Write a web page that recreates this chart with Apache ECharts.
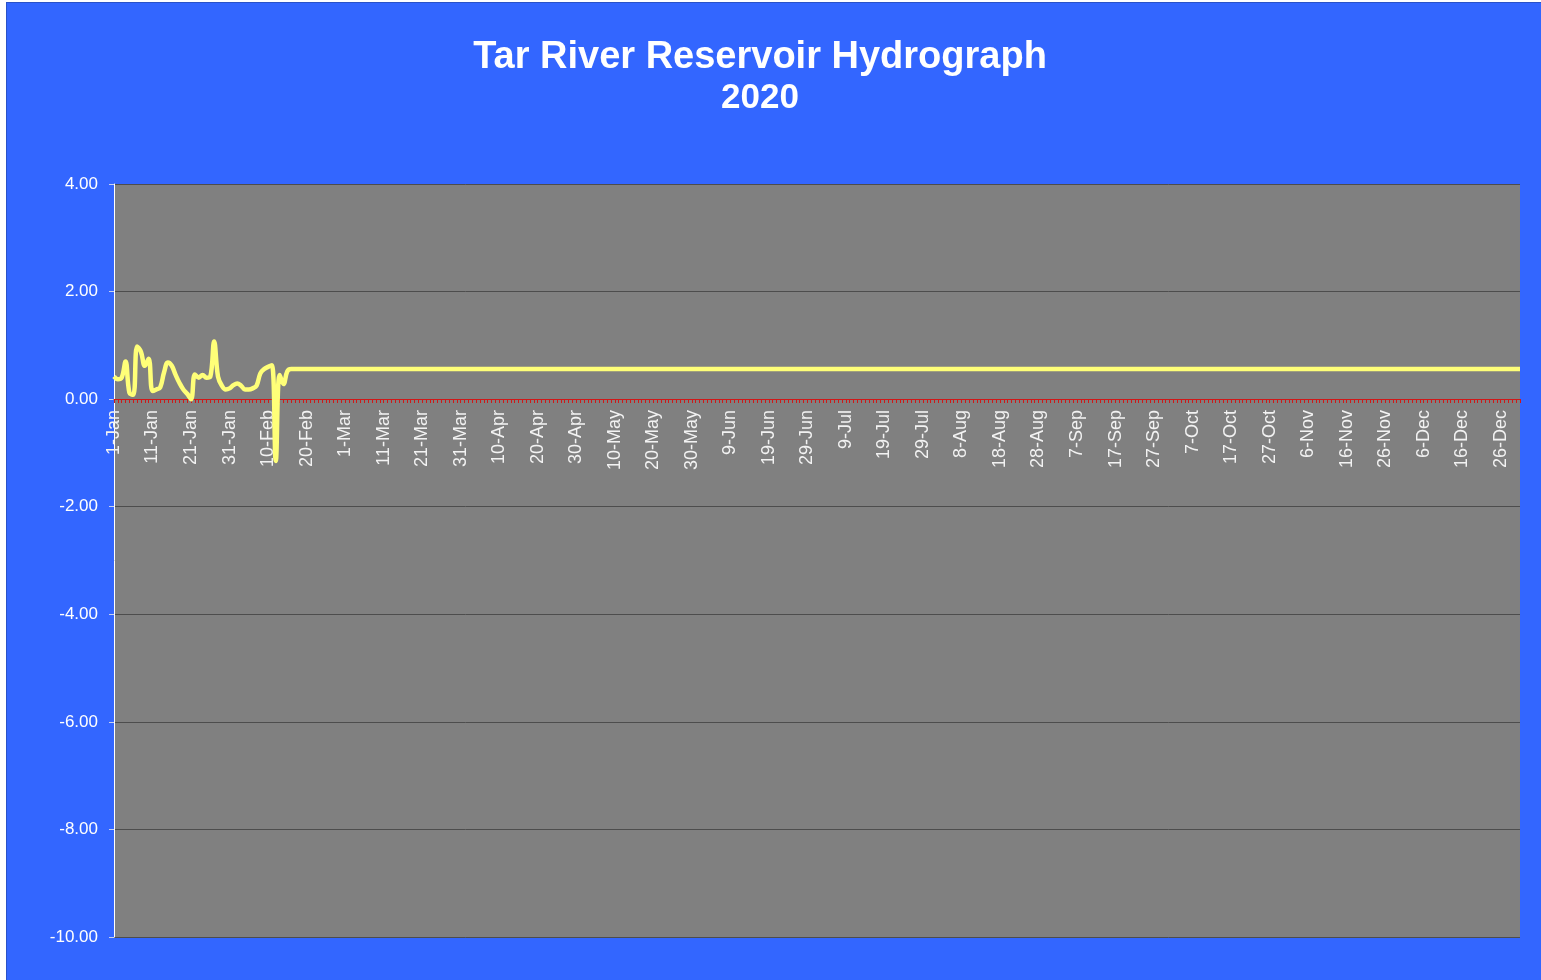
<!DOCTYPE html>
<html>
<head>
<meta charset="utf-8">
<title>Tar River Reservoir Hydrograph 2020</title>
<script src="https://cdn.jsdelivr.net/npm/echarts@6/dist/echarts.min.js"></script>
<style>
  html, body { margin: 0; padding: 0; background: #ffffff; }
  .frame { position: absolute; left: 6px; top: 2px; width: 1535px; height: 978px; background: #2a52c8; }
  #hydroChart { position: absolute; left: 7px; top: 3px; width: 1534px; height: 977px; }
</style>
</head>
<body>
<div class="frame"></div>
<div id="hydroChart"></div>
<script>
// 2020 is a leap year
const monthNames = ['Jan', 'Feb', 'Mar', 'Apr', 'May', 'Jun', 'Jul', 'Aug', 'Sep', 'Oct', 'Nov', 'Dec']
const monthDays = [31, 29, 31, 30, 31, 30, 31, 31, 30, 31, 30, 31]

// daily level, 1-Jan .. 15-Feb
const earlyLevels = [
  0.42, 0.37, 0.40, 0.70, 0.12, 0.08, 0.98, 0.88, 0.62, 0.75,
  0.15, 0.18, 0.22, 0.50, 0.68, 0.62, 0.45, 0.30, 0.18, 0.10,
  0.00, 0.46, 0.40, 0.45, 0.40, 0.42, 1.07, 0.42, 0.25, 0.18,
  0.20, 0.26, 0.29, 0.25, 0.18, 0.18, 0.20, 0.25, 0.48, 0.56,
  0.60, 0.63, -1.15, 0.45, 0.28, 0.52,
]

// 16-Feb .. 31-Dec, the line stays flat
const laterLevels = [
  0.56, 0.56, 0.56, 0.56, 0.56, 0.56, 0.56, 0.56, 0.56, 0.56, 0.56, 0.56, 0.56, 0.56, 0.56, 0.56, 0.56, 0.56, 0.56, 0.56,
  0.56, 0.56, 0.56, 0.56, 0.56, 0.56, 0.56, 0.56, 0.56, 0.56, 0.56, 0.56, 0.56, 0.56, 0.56, 0.56, 0.56, 0.56, 0.56, 0.56,
  0.56, 0.56, 0.56, 0.56, 0.56, 0.56, 0.56, 0.56, 0.56, 0.56, 0.56, 0.56, 0.56, 0.56, 0.56, 0.56, 0.56, 0.56, 0.56, 0.56,
  0.56, 0.56, 0.56, 0.56, 0.56, 0.56, 0.56, 0.56, 0.56, 0.56, 0.56, 0.56, 0.56, 0.56, 0.56, 0.56, 0.56, 0.56, 0.56, 0.56,
  0.56, 0.56, 0.56, 0.56, 0.56, 0.56, 0.56, 0.56, 0.56, 0.56, 0.56, 0.56, 0.56, 0.56, 0.56, 0.56, 0.56, 0.56, 0.56, 0.56,
  0.56, 0.56, 0.56, 0.56, 0.56, 0.56, 0.56, 0.56, 0.56, 0.56, 0.56, 0.56, 0.56, 0.56, 0.56, 0.56, 0.56, 0.56, 0.56, 0.56,
  0.56, 0.56, 0.56, 0.56, 0.56, 0.56, 0.56, 0.56, 0.56, 0.56, 0.56, 0.56, 0.56, 0.56, 0.56, 0.56, 0.56, 0.56, 0.56, 0.56,
  0.56, 0.56, 0.56, 0.56, 0.56, 0.56, 0.56, 0.56, 0.56, 0.56, 0.56, 0.56, 0.56, 0.56, 0.56, 0.56, 0.56, 0.56, 0.56, 0.56,
  0.56, 0.56, 0.56, 0.56, 0.56, 0.56, 0.56, 0.56, 0.56, 0.56, 0.56, 0.56, 0.56, 0.56, 0.56, 0.56, 0.56, 0.56, 0.56, 0.56,
  0.56, 0.56, 0.56, 0.56, 0.56, 0.56, 0.56, 0.56, 0.56, 0.56, 0.56, 0.56, 0.56, 0.56, 0.56, 0.56, 0.56, 0.56, 0.56, 0.56,
  0.56, 0.56, 0.56, 0.56, 0.56, 0.56, 0.56, 0.56, 0.56, 0.56, 0.56, 0.56, 0.56, 0.56, 0.56, 0.56, 0.56, 0.56, 0.56, 0.56,
  0.56, 0.56, 0.56, 0.56, 0.56, 0.56, 0.56, 0.56, 0.56, 0.56, 0.56, 0.56, 0.56, 0.56, 0.56, 0.56, 0.56, 0.56, 0.56, 0.56,
  0.56, 0.56, 0.56, 0.56, 0.56, 0.56, 0.56, 0.56, 0.56, 0.56, 0.56, 0.56, 0.56, 0.56, 0.56, 0.56, 0.56, 0.56, 0.56, 0.56,
  0.56, 0.56, 0.56, 0.56, 0.56, 0.56, 0.56, 0.56, 0.56, 0.56, 0.56, 0.56, 0.56, 0.56, 0.56, 0.56, 0.56, 0.56, 0.56, 0.56,
  0.56, 0.56, 0.56, 0.56, 0.56, 0.56, 0.56, 0.56, 0.56, 0.56, 0.56, 0.56, 0.56, 0.56, 0.56, 0.56, 0.56, 0.56, 0.56, 0.56,
  0.56, 0.56, 0.56, 0.56, 0.56, 0.56, 0.56, 0.56, 0.56, 0.56, 0.56, 0.56, 0.56, 0.56, 0.56, 0.56, 0.56, 0.56, 0.56, 0.56,
]

const yTicks = [-10, -8, -6, -4, -2, 0, 2, 4]

// one category per day: 1-Jan ... 31-Dec
const dayLabels = []
monthNames.forEach((m, i) => {
  for (let d = 1; d <= monthDays[i]; d++) dayLabels.push(d + '-' + m)
})
const levels = earlyLevels.concat(laterLevels)

const gridTop = 181
const gridBottom = 43
const plotHeight = 977 - gridTop - gridBottom
const yMin = yTicks[0]
const yMax = yTicks[yTicks.length - 1]
// the category axis sits on the zero line, with its labels hanging under it
const zeroOffset = -Math.round(plotHeight * (0 - yMin) / (yMax - yMin))

const fontFamily = '"Liberation Sans", Arial, sans-serif'
const hydroChart = echarts.init(document.getElementById('hydroChart'), null, { renderer: 'canvas' })

hydroChart.setOption({
  backgroundColor: '#3366ff',
  animation: false,
  title: [
    {
      text: 'Tar River Reservoir Hydrograph',
      left: 753,
      top: 36,
      textAlign: 'center',
      padding: 0,
      textStyle: { color: '#ffffff', fontSize: 38, fontWeight: 'bold', fontFamily: fontFamily },
    },
    {
      text: '2020',
      left: 753,
      top: 78,
      textAlign: 'center',
      padding: 0,
      textStyle: { color: '#ffffff', fontSize: 35, fontWeight: 'bold', fontFamily: fontFamily },
    },
  ],
  grid: {
    left: 107,
    right: 21,
    top: gridTop,
    bottom: gridBottom,
    outerBoundsMode: 'none',
    containLabel: false,
    show: true,
    backgroundColor: '#808080',
    borderWidth: 0,
  },
  xAxis: {
    type: 'category',
    data: dayLabels,
    boundaryGap: false,
    position: 'bottom',
    offset: zeroOffset,
    z: 1,
    axisLine: { onZero: false, lineStyle: { color: '#d01818', width: 1 } },
    axisTick: { interval: 0, length: 4, lineStyle: { color: '#d01818' } },
    axisLabel: {
      interval: 9,
      rotate: 90,
      margin: 11,
      color: '#f2f2f2',
      fontSize: 18,
      fontFamily: fontFamily,
    },
    splitLine: { show: false },
  },
  yAxis: {
    type: 'value',
    min: yMin,
    max: yMax,
    interval: 2,
    z: 0,
    axisLine: { show: true, onZero: false, lineStyle: { color: '#ffffff', width: 1 } },
    axisTick: { show: true, length: 5, lineStyle: { color: '#c8d2f0' } },
    axisLabel: {
      margin: 16,
      color: '#ffffff',
      fontSize: 17,
      fontFamily: fontFamily,
      formatter: (v) => v.toFixed(2),
    },
    splitLine: { show: true, lineStyle: { color: '#4d4d4d', width: 1 } },
  },
  series: [
    {
      name: 'Level',
      type: 'line',
      data: levels,
      smooth: 0.4,
      showSymbol: false,
      z: 3,
      lineStyle: { color: '#ffff78', width: 4.5 },
    },
  ],
})
</script>
</body>
</html>
